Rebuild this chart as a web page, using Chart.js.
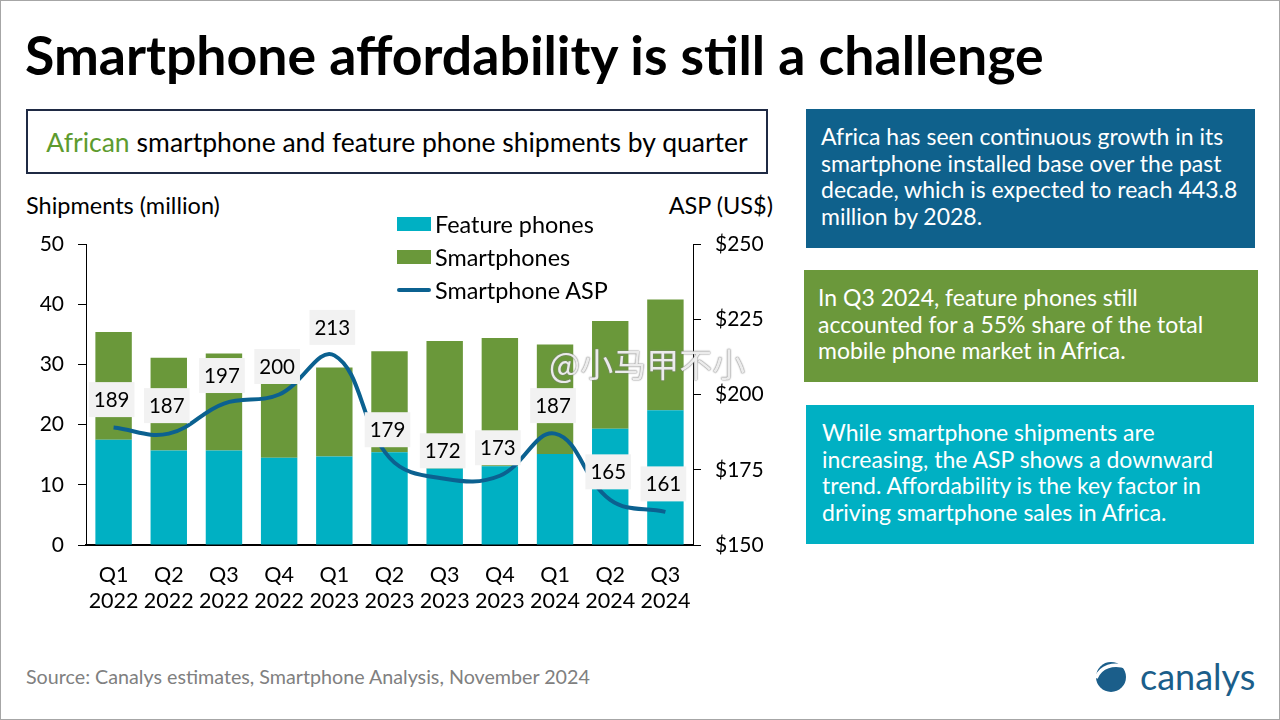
<!DOCTYPE html>
<html>
<head>
<meta charset="utf-8">
<script src="https://cdn.jsdelivr.net/npm/chart.js@4.4.1/dist/chart.umd.min.js"></script>
<style>
  body { margin: 0; background: #fff; }
  .slide { position: relative; width: 1280px; height: 720px; border: 1px solid #a6a6a6; box-sizing: border-box; overflow: hidden; font-family: Lato, sans-serif; color: #000; }
  .title { position: absolute; left: 24px; top: 21px; font-weight: bold; font-size: 53.6px; white-space: nowrap; }
  .subtitle { position: absolute; left: 25px; top: 108px; width: 742px; height: 65px; box-sizing: border-box; border: 2px solid #1f2a44; font-size: 26.5px; display: flex; align-items: center; justify-content: center; white-space: nowrap; }
  .subtitle span { color: #5d9b2f; margin-right: 7px; }
  .axis-title { position: absolute; top: 190px; font-size: 23.5px; }
  .legend { position: absolute; left: 396px; top: 206px; font-size: 23.4px; }
  .legend div { height: 33px; display: flex; align-items: center; }
  .legend i { display: inline-block; width: 34px; height: 14px; margin-right: 4px; }
  .legend i.line { height: 4px; border-radius: 2px; }
  .box { position: absolute; color: #fff; font-size: 23px; line-height: 26.7px; box-sizing: border-box; white-space: nowrap; }
  .source { position: absolute; left: 25px; top: 664px; font-size: 19.7px; color: #808080; }
  .logo { position: absolute; left: 1092px; top: 653px; display: flex; align-items: center; color: #1b5e8a; font-size: 36px; }
  .watermark { position: absolute; left: 548px; top: 338px; font-family: "Noto Sans CJK SC", sans-serif; font-size: 33px; color: rgba(255,255,255,0.85); text-shadow: 0 0 2px #888, 0 0 1px #666; }
  #chartWrap { position: absolute; left: 0; top: 180px; width: 790px; height: 460px; }
</style>
</head>
<body>
<div class="slide">
  <div class="title">Smartphone affordability is still a challenge</div>
  <div class="subtitle"><span>African</span>smartphone and feature phone shipments by quarter</div>
  <div class="axis-title" style="left:25px">Shipments (million)</div>
  <div class="axis-title" style="right:506px">ASP (US$)</div>

  <div id="chartWrap"><canvas id="chart"></canvas></div>

  <div class="legend">
    <div><i style="background:#00b0c3"></i>Feature phones</div>
    <div><i style="background:#6a983a"></i>Smartphones</div>
    <div><i class="line" style="background:#0b6190"></i>Smartphone ASP</div>
  </div>

  <div class="watermark">@小马甲不小</div>

  <div class="box" style="left:805px; top:108px; width:449px; height:139px; background:#0f618c; padding:14px 10px 0 15px;">Africa has seen continuous growth in its<br>smartphone installed base over the past<br>decade, which is expected to reach 443.8<br>million by 2028.</div>
  <div class="box" style="left:803px; top:269px; width:454px; height:112px; background:#6b983b; padding:14px 10px 0 14px;">In Q3 2024, feature phones still<br>accounted for a 55% share of the total<br>mobile phone market in Africa.</div>
  <div class="box" style="left:805px; top:404px; width:448px; height:139px; background:#00b0c3; padding:14px 10px 0 16px;">While smartphone shipments are<br>increasing, the ASP shows a downward<br>trend. Affordability is the key factor in<br>driving smartphone sales in Africa.</div>

  <div class="source">Source: Canalys estimates, Smartphone Analysis, November 2024</div>

  <div class="logo">
    <svg width="36" height="36" viewBox="0 0 36 36">
      <circle cx="18" cy="19" r="15" fill="#1b5e8a"/>
      <path d="M3 20 C 8 8, 20 5, 34 9" stroke="#fff" stroke-width="3.5" fill="none"/>
    </svg>
    <span style="margin-left:11px">canalys</span>
  </div>
</div>

<script>
const quarters = [
  ['Q1', '2022'], ['Q2', '2022'], ['Q3', '2022'], ['Q4', '2022'],
  ['Q1', '2023'], ['Q2', '2023'], ['Q3', '2023'], ['Q4', '2023'],
  ['Q1', '2024'], ['Q2', '2024'], ['Q3', '2024']
];
const featurePhones = [17.5, 15.7, 15.7, 14.5, 14.7, 15.4, 12.7, 13.1, 15.1, 19.3, 22.4];
const smartphones = [17.9, 15.4, 16.1, 14.5, 14.8, 16.8, 21.2, 21.3, 18.2, 17.9, 18.4];
const smartphoneASP = [189, 187, 197, 200, 213, 179, 172, 173, 187, 165, 161];

const shipmentTicks = [0, 10, 20, 30, 40, 50];
const aspTicks = [150, 175, 200, 225, 250];

// grey boxes with the ASP value above each point of the line
const aspLabels = {
  id: 'aspLabels',
  afterDatasetsDraw(chart) {
    const ctx = chart.ctx;
    const meta = chart.getDatasetMeta(2);
    ctx.save();
    ctx.font = '20.5px Lato';
    ctx.textAlign = 'center';
    ctx.textBaseline = 'middle';
    meta.data.forEach((pt, i) => {
      const txt = String(smartphoneASP[i]);
      const w = ctx.measureText(txt).width + 10;
      const h = 35;
      const cx = pt.x - 2;
      const cy = pt.y - 28;
      ctx.fillStyle = '#f2f2f2';
      ctx.fillRect(cx - w / 2, cy - h / 2, w, h);
      ctx.fillStyle = '#000';
      ctx.fillText(txt, cx, cy + 1);
    });
    ctx.restore();
  }
};

const tickFont = { family: 'Lato', size: 21 };

new Chart(document.getElementById('chart'), {
  type: 'bar',
  data: {
    labels: quarters,
    datasets: [
      {
        label: 'Feature phones',
        data: featurePhones,
        backgroundColor: '#00b0c3',
        yAxisID: 'y',
        order: 1,
        barPercentage: 0.66,
        categoryPercentage: 1
      },
      {
        label: 'Smartphones',
        data: smartphones,
        backgroundColor: '#6a983a',
        yAxisID: 'y',
        order: 1,
        barPercentage: 0.66,
        categoryPercentage: 1
      },
      {
        type: 'line',
        label: 'Smartphone ASP',
        data: smartphoneASP,
        borderColor: '#0b6190',
        borderWidth: 4,
        pointRadius: 0,
        tension: 0.4,
        yAxisID: 'y1',
        order: 0
      }
    ]
  },
  options: {
    responsive: true,
    maintainAspectRatio: false,
    animation: false,
    layout: { padding: { top: 63, left: 0, right: 0, bottom: 0 } },
    plugins: {
      legend: { display: false },
      tooltip: { enabled: false }
    },
    scales: {
      x: {
        stacked: true,
        grid: { display: false, drawTicks: false },
        border: { display: true, color: '#000', width: 2 },
        ticks: { font: { family: 'Lato', size: 21.5 }, color: '#000', padding: 17, maxRotation: 0, autoSkip: false },
        afterFit(s) { s.height = 96; }
      },
      y: {
        stacked: true,
        position: 'left',
        min: 0,
        max: 50,
        afterBuildTicks(s) { s.ticks = shipmentTicks.map(v => ({ value: v })); },
        ticks: { font: tickFont, color: '#000', padding: 14 },
        grid: { drawOnChartArea: false, drawTicks: true, tickLength: 8, color: '#000' },
        border: { display: true, color: '#000', width: 1 },
        afterFit(s) { s.width = 85; }
      },
      y1: {
        position: 'right',
        min: 150,
        max: 250,
        afterBuildTicks(s) { s.ticks = aspTicks.map(v => ({ value: v })); },
        ticks: { font: tickFont, color: '#000', padding: 14, callback: v => '$' + v },
        grid: { drawOnChartArea: false, drawTicks: true, tickLength: 8, color: '#000' },
        border: { display: true, color: '#000', width: 1 },
        afterFit(s) { s.width = 98; }
      }
    }
  },
  plugins: [aspLabels]
});
</script>
</body>
</html>
